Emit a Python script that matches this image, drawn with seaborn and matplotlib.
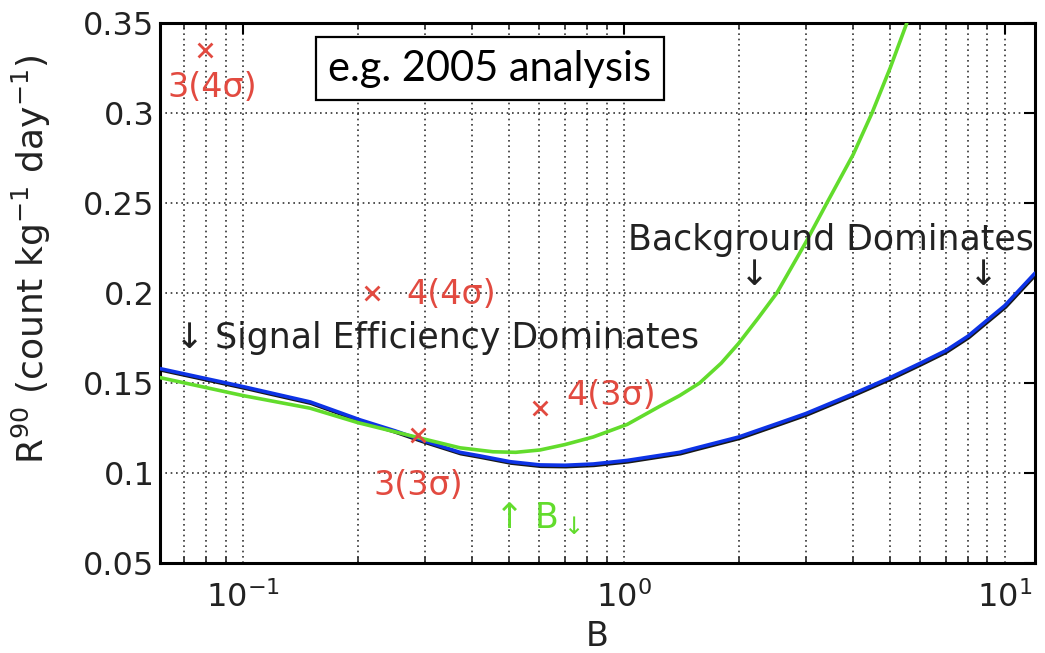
import matplotlib
matplotlib.use("Agg")
import matplotlib.pyplot as plt
import matplotlib.patheffects as pe
from matplotlib.ticker import LogLocator, FixedLocator, FixedFormatter, NullFormatter
import seaborn as sns
import pandas as pd

# Optimised 90% upper limit R90 versus expected background B
blue_B = [0.0605, 0.1, 0.15, 0.203, 0.25, 0.297, 0.371, 0.419, 0.502, 0.602, 0.7, 0.83, 1.02,
          1.40, 1.52, 2.0, 2.57, 3.0, 4.0, 5.0, 6.0, 7.0, 8.0, 9.0, 10.0, 12.0]
blue_R = [0.158, 0.148, 0.1395, 0.1295, 0.1235, 0.118, 0.1115, 0.1095, 0.1063, 0.1045, 0.1043, 0.105, 0.107,
          0.1115, 0.1135, 0.120, 0.128, 0.133, 0.144, 0.153, 0.161, 0.168, 0.176, 0.185, 0.193, 0.211]

green_B = [0.0605, 0.1, 0.15, 0.2, 0.297, 0.371, 0.453, 0.52, 0.602, 0.7, 0.83, 1.02, 1.24, 1.40, 1.58,
           1.8, 2.0, 2.25, 2.52, 3.0, 3.41, 4.0, 4.48, 5.0, 5.53]
green_R = [0.153, 0.143, 0.136, 0.128, 0.119, 0.114, 0.1118, 0.1115, 0.1128, 0.1158, 0.120, 0.127, 0.137,
           0.143, 0.150, 0.161, 0.172, 0.186, 0.200, 0.228, 0.250, 0.277, 0.300, 0.325, 0.350]

# Individual analysis outcomes
point_B = [0.0794, 0.218, 0.288, 0.602]
point_R = [0.335, 0.200, 0.1211, 0.1361]
point_labels = ["3(4σ)", "4(4σ)", "3(3σ)", "4(3σ)"]

y_ticks = [0.05, 0.1, 0.15, 0.2, 0.25, 0.3, 0.35]
y_ticklabels = ["0.05", "0.1", "0.15", "0.2", "0.25", "0.3", "0.35"]

BLUE = "#0d33e6"
GREEN = "#62dc2c"
RED = "#e24a40"
INK = "#222222"

sns.set_theme(style="white")
plt.rcParams["font.family"] = ["DejaVu Sans"]
plt.rcParams["mathtext.fontset"] = "dejavusans"
plt.rcParams["mathtext.default"] = "regular"

fig = plt.figure(figsize=(10.45, 6.53), dpi=100)
ax = fig.add_axes([0.1531, 0.1378, 0.8373, 0.827])

blue_df = pd.DataFrame({"B": blue_B, "R": blue_R})
green_df = pd.DataFrame({"B": green_B, "R": green_R})
pts_df = pd.DataFrame({"B": point_B, "R": point_R})

sns.lineplot(data=blue_df, x="B", y="R", ax=ax, color=BLUE, lw=2.6, sort=False,
             path_effects=[pe.SimpleLineShadow(offset=(0.6, -1.0), shadow_color="black", alpha=0.9),
                           pe.Normal()], zorder=4)
sns.lineplot(data=green_df, x="B", y="R", ax=ax, color=GREEN, lw=2.6, sort=False, zorder=5)
sns.scatterplot(data=pts_df, x="B", y="R", ax=ax, marker="x", color=RED, s=100,
                linewidth=2.0, zorder=6)

ax.set_xscale("log")
ax.set_xlim(0.0605, 12.0)
ax.set_ylim(0.05, 0.35)

ax.yaxis.set_major_locator(FixedLocator(y_ticks))
ax.yaxis.set_major_formatter(FixedFormatter(y_ticklabels))
ax.xaxis.set_major_locator(LogLocator(base=10, numticks=10))
ax.xaxis.set_minor_locator(LogLocator(base=10, subs=range(2, 10), numticks=20))
ax.xaxis.set_minor_formatter(NullFormatter())

ax.grid(True, which="major", axis="both", color="black", linestyle=(0, (1, 2.2)), lw=1.2, alpha=0.8)
ax.grid(True, which="minor", axis="x", color="black", linestyle=(0, (1, 2.2)), lw=1.2, alpha=0.8)

ax.tick_params(axis="both", which="major", direction="in", length=8, width=1.5,
               top=True, right=True, labelsize=23, labelcolor=INK, color="black")
ax.tick_params(axis="y", which="major", pad=4)
ax.tick_params(axis="x", which="major", pad=13)
ax.tick_params(axis="x", which="minor", direction="in", length=4, width=1.2, top=True, bottom=True)
for s in ax.spines.values():
    s.set_visible(True)
    s.set_color("black")
    s.set_linewidth(2.2)

ax.set_xlabel("B", fontsize=24, color=INK)
ax.xaxis.set_label_coords(0.5, -0.105)
ax.set_ylabel("R$^{90}$ (count kg$^{-1}$ day$^{-1}$)", fontsize=26, color=INK)
ax.yaxis.set_label_coords(-0.122, 0.563)

# point labels
ax.text(0.0831, 0.314, point_labels[0], color=RED, fontsize=24, ha="center", va="center", zorder=7)
ax.text(0.268, 0.199, point_labels[1], color=RED, fontsize=24, ha="left", va="center", zorder=7)
ax.text(0.288, 0.0933, point_labels[2], color=RED, fontsize=24, ha="center", va="center", zorder=7)
ax.text(0.705, 0.143, point_labels[3], color=RED, fontsize=24, ha="left", va="center", zorder=7)

# regime annotations
ax.text(0.0662, 0.175, "↓ Signal Efficiency Dominates", color=INK, fontsize=25,
        ha="left", va="center", zorder=7)
ax.text(1.024, 0.2294, "Background Dominates", color=INK, fontsize=25,
        ha="left", va="center", zorder=7)
ax.text(2.2, 0.210, "↓", color=INK, fontsize=25, ha="center", va="center", zorder=7)
ax.text(8.8, 0.210, "↓", color=INK, fontsize=25, ha="center", va="center", zorder=7)
ax.text(0.455, 0.075, "↑ B$_{\\downarrow}$", color=GREEN, fontsize=25, ha="left", va="center", zorder=7)

# title box
ax.text(0.377, 0.915, "e.g. 2005 analysis", transform=ax.transAxes, fontsize=30,
        family=["Lato", "DejaVu Sans"], ha="center", va="center", color="black", zorder=8,
        bbox=dict(boxstyle="square,pad=0.3", fc="white", ec="black", lw=1.6))

fig.savefig("out.png", dpi=100)
